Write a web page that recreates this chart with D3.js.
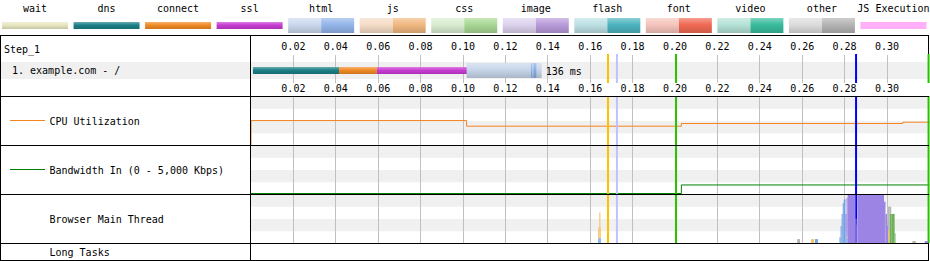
<!DOCTYPE html>
<html>
<head>
<meta charset="utf-8">
<script src="https://cdn.jsdelivr.net/npm/d3@7"></script>
<style>
    html, body { margin: 0; padding: 0; background: #fff; }
    svg { display: block; font-family: "DejaVu Sans Mono", monospace; font-size: 10px; }
</style>
</head>
<body>
<div id="chart"></div>
<script>
// ---- legend ----
const legendNames = ["wait", "dns", "connect", "ssl", "html", "js", "css", "image", "flash", "font", "video", "other", "JS Execution"];
const legendLight = ["#e8e6c0", "#1b7f86", "#f08a24", "#c83cd2", "#cad8ee", "#f5dcc6", "#d8ecd0", "#ddd2ee", "#bce0e4", "#f6c4bc", "#b4e2d6", "#dcdcdc", "#ffb0f8"];
const legendDark = [null, null, null, null, "#93b5ea", "#f0b880", "#a8d894", "#b89ada", "#4cb4c0", "#f06a54", "#38bc9c", "#b4b4b4", null];

// ---- waterfall ----
const tickValues = [0.02, 0.04, 0.06, 0.08, 0.10, 0.12, 0.14, 0.16, 0.18, 0.20, 0.22, 0.24, 0.26, 0.28, 0.30];
const stepLabel = "Step_1";
const requestLabel = "1. example.com - /";
const phaseNames = ["dns", "connect", "ssl"];
const phaseStart = [0.0009, 0.0415, 0.0594];
const phaseEnd = [0.0415, 0.0594, 0.1022];
const htmlStart = 0.1017;
const htmlEnd = 0.1371;
const chunkStart = [0.1321, 0.1332];
const chunkEnd = [0.1327, 0.1346];
const durationLabel = "136 ms";

// ---- page events (s) ----
const eventTimes = [0.1684, 0.1726, 0.2005, 0.2854, 0.3196];
const eventColors = ["#ffc000", "#c0c0ff", "#28c000", "#0000ff", "#28c000"];

// ---- CPU (%) and bandwidth (Kbps) ----
const cpuTimes = [0, 0.1017, 0.2030, 0.3074];
const cpuValues = [50.4, 38.8, 44.3, 47.0];
const bwTimes = [0, 0.2030];
const bwValues = [0, 890];

// ---- browser main thread (ms ranges, share of each bucket) ----
const mtKeys = ["parse", "script", "layout", "paint", "other"];
const mtColors = ["#70a2e3", "#f5c25c", "#9b84e4", "#6fb05c", "#b4b4b4"];
const mtStart = [163.8, 164.3, 164.8, 257.6, 264.2, 266.0, 277.6, 278.1, 278.6, 279.1, 279.6, 280.4, 280.9, 281.4, 285.1, 285.6, 286.0, 298.6, 299.3, 300.0, 300.5, 301.2, 302.0, 303.6, 312.0, 317.8];
const mtEnd = [164.3, 164.8, 165.1, 259.0, 265.6, 267.4, 278.1, 278.6, 279.1, 279.6, 280.4, 280.9, 281.4, 285.1, 285.6, 286.0, 298.6, 299.3, 300.0, 300.5, 301.2, 302.0, 303.6, 304.0, 313.6, 319.3];
const mtParse = [0.10, 0.10, 0.10, 0, 0, 0.08, 0.12, 0.35, 0.60, 0.82, 0.90, 0.25, 0.10, 0, 0, 0, 0, 0, 0, 0, 0, 0, 0, 0, 0, 0];
const mtScript = [0.22, 0.53, 0.22, 0, 0.08, 0, 0, 0, 0, 0, 0, 0, 0.03, 0, 0, 0.03, 0, 0, 0, 0, 0.27, 0, 0, 0, 0, 0];
const mtLayout = [0, 0, 0, 0, 0, 0, 0, 0, 0, 0, 0, 0.35, 0.80, 1.0, 0.50, 0.35, 1.0, 0.85, 0.60, 0.35, 0, 0, 0, 0, 0, 0.04];
const mtPaint = [0, 0, 0, 0, 0, 0, 0, 0, 0, 0, 0, 0, 0, 0, 0, 0, 0, 0, 0, 0, 0, 0.60, 0.60, 0.20, 0, 0];
const mtOther = [0, 0, 0, 0.08, 0, 0, 0, 0, 0, 0, 0, 0, 0, 0, 0, 0, 0, 0, 0, 0.10, 0.48, 0.15, 0, 0, 0.04, 0];

const width = 930, height = 261;
const labelW = 250;
const right = 928.5;
const lanes = [
    { name: "cpu", top: 96.5, bottom: 145.5 },
    { name: "bw", top: 145.5, bottom: 194.5 },
    { name: "mt", top: 194.5, bottom: 243.5 }
];

const svg = d3.select("#chart").append("svg")
    .attr("width", width)
    .attr("height", height);
const defs = svg.append("defs");

function gradient(id, color) {
    const g = defs.append("linearGradient")
        .attr("id", id)
        .attr("x1", 0).attr("y1", 0).attr("x2", 0).attr("y2", 1);
    g.append("stop").attr("offset", "0").attr("stop-color", d3.interpolateRgb(color, "#fff")(0.35));
    g.append("stop").attr("offset", "0.45").attr("stop-color", color);
    g.append("stop").attr("offset", "1").attr("stop-color", d3.interpolateRgb(color, "#000")(0.15));
    return `url(#${id})`;
}

const x = d3.scaleLinear().domain([0, 0.32]).range([251, 251 + 0.32 * 2120]);

// ---- legend ----
const colW = width / legendNames.length;
const legend = svg.append("g");
legendNames.forEach((name, i) => {
    const g = legend.append("g").attr("transform", `translate(${i * colW},0)`);
    g.append("text")
        .attr("x", 35).attr("y", 12)
        .attr("text-anchor", "middle")
        .text(name);
    if (legendDark[i]) {
        g.append("rect").attr("x", 2).attr("y", 18).attr("width", 33).attr("height", 15)
            .attr("fill", gradient("lgL" + i, legendLight[i]));
        g.append("rect").attr("x", 35).attr("y", 18).attr("width", 33).attr("height", 15)
            .attr("fill", gradient("lgD" + i, legendDark[i]));
    } else {
        g.append("rect").attr("x", 2).attr("y", 22).attr("width", 66).attr("height", 7)
            .attr("fill", name === "JS Execution" ? legendLight[i] : gradient("lg" + i, legendLight[i]));
    }
});

// ---- backgrounds ----
svg.append("rect").attr("x", 1).attr("y", 62).attr("width", right - 1).attr("height", 17).attr("fill", "#f0f0f0");
lanes.forEach(l => {
    const h = (l.bottom - l.top) / 4;
    [0, 2].forEach(k => {
        svg.append("rect")
            .attr("x", 251).attr("y", l.top + k * h)
            .attr("width", right - 251).attr("height", h)
            .attr("fill", "#f0f0f0");
    });
});

// ---- grid ----
const grid = svg.append("g").attr("stroke", "#c0c0c0").attr("stroke-width", 1);
tickValues.forEach(t => {
    const px = Math.floor(x(t)) + 0.5;
    grid.append("line").attr("x1", px).attr("x2", px).attr("y1", 55).attr("y2", 83);
    grid.append("line").attr("x1", px).attr("x2", px).attr("y1", 96).attr("y2", 243);
});

// tick labels
const tickG = svg.append("g").attr("text-anchor", "middle");
tickValues.forEach(t => {
    tickG.append("text").attr("x", x(t)).attr("y", 49.5).text(t.toFixed(2));
    tickG.append("text").attr("x", x(t)).attr("y", 91.5).text(t.toFixed(2));
});

// row labels
svg.append("text").attr("x", 4).attr("y", 52.5).text(stepLabel);
svg.append("text").attr("x", 12).attr("y", 74).text(requestLabel);

// ---- request bar ----
const req = svg.append("g");
phaseNames.forEach((p, i) => {
    const li = legendNames.indexOf(p);
    req.append("rect")
        .attr("x", x(phaseStart[i])).attr("y", 67)
        .attr("width", x(phaseEnd[i]) - x(phaseStart[i])).attr("height", 7)
        .attr("fill", gradient("ph" + i, legendLight[li]));
});
req.append("rect")
    .attr("x", x(htmlStart)).attr("y", 63)
    .attr("width", x(htmlEnd) - x(htmlStart)).attr("height", 15)
    .attr("fill", gradient("htmlL", "#c8d6ea"));
chunkStart.forEach((s, i) => {
    req.append("rect")
        .attr("x", x(s)).attr("y", 63)
        .attr("width", x(chunkEnd[i]) - x(s)).attr("height", 15)
        .attr("fill", gradient("htmlD" + i, "#86aee6"));
});
req.append("text").attr("x", x(htmlEnd) + 4).attr("y", 74.5).text(durationLabel);

// ---- CPU ----
const cpuY = d3.scaleLinear().domain([0, 100]).range([lanes[0].bottom - 0.5, lanes[0].top]);
const cpuPts = [[0, 0]].concat(cpuTimes.map((t, i) => [t, cpuValues[i]]), [[0.32, cpuValues[cpuValues.length - 1]]]);
svg.append("path")
    .attr("d", d3.line().x(d => x(d[0])).y(d => cpuY(d[1])).curve(d3.curveStepAfter)(cpuPts))
    .attr("fill", "none").attr("stroke", "#f5841f").attr("stroke-width", 1);
svg.append("line").attr("x1", 10).attr("x2", 45).attr("y1", 120.5).attr("y2", 120.5)
    .attr("stroke", "#f5841f");
svg.append("text").attr("x", 49.5).attr("y", 124.5).text("CPU Utilization");

// ---- bandwidth ----
const bwY = d3.scaleLinear().domain([0, 5000]).range([lanes[1].bottom - 1, lanes[1].top]);
const bwPts = bwTimes.map((t, i) => [t, bwValues[i]]).concat([[0.32, bwValues[bwValues.length - 1]]]);
svg.append("path")
    .attr("d", d3.line().x(d => x(d[0])).y(d => bwY(d[1])).curve(d3.curveStepAfter)(bwPts))
    .attr("fill", "none").attr("stroke", "#008000").attr("stroke-width", 1);
svg.append("line").attr("x1", 10).attr("x2", 45).attr("y1", 169.5).attr("y2", 169.5)
    .attr("stroke", "#008000");
svg.append("text").attr("x", 49.5).attr("y", 173.5).text("Bandwidth In (0 - 5,000 Kbps)");

// ---- event lines (skip the bottom tick-label strip) ----
eventTimes.forEach((t, i) => {
    [[54, 83], [96, 243]].forEach(([y1, y2]) => {
        svg.append("line")
            .attr("x1", x(t)).attr("x2", x(t)).attr("y1", y1).attr("y2", y2)
            .attr("stroke", eventColors[i]).attr("stroke-width", 2);
    });
});

// ---- main thread ----
const mtRows = mtStart.map((s, i) => ({
    start: s / 1000, end: mtEnd[i] / 1000,
    parse: mtParse[i], script: mtScript[i], layout: mtLayout[i], paint: mtPaint[i], other: mtOther[i]
}));
const mtY = d3.scaleLinear().domain([0, 1]).range([lanes[2].bottom - 0.5, lanes[2].top]);
const stacked = d3.stack().keys(mtKeys)(mtRows);
svg.append("g").selectAll("g")
    .data(stacked)
    .join("g")
    .attr("fill", (d, i) => mtColors[i])
    .selectAll("rect")
    .data(d => d.filter(v => v[1] > v[0]))
    .join("rect")
    .attr("x", d => x(d.data.start))
    .attr("width", d => x(d.data.end) - x(d.data.start))
    .attr("y", d => mtY(d[1]))
    .attr("height", d => mtY(d[0]) - mtY(d[1]));
svg.append("text").attr("x", 49.5).attr("y", 223).text("Browser Main Thread");
svg.append("text").attr("x", 49.5).attr("y", 256).text("Long Tasks");

// ---- borders ----
const border = svg.append("g").attr("stroke", "#000").attr("stroke-width", 1);
[35.5, 96.5, 145.5, 194.5, 243.5, 260.5].forEach(yy => {
    border.append("line").attr("x1", 0).attr("x2", right + 0.5).attr("y1", yy).attr("y2", yy);
});
[0.5, labelW + 0.5].forEach(xx => {
    border.append("line").attr("x1", xx).attr("x2", xx).attr("y1", 35.5).attr("y2", 260.5);
});
border.append("line").attr("x1", right).attr("x2", right).attr("y1", 35.5).attr("y2", 54);
border.append("line").attr("x1", right).attr("x2", right).attr("y1", 243).attr("y2", 260.5);
</script>
</body>
</html>
